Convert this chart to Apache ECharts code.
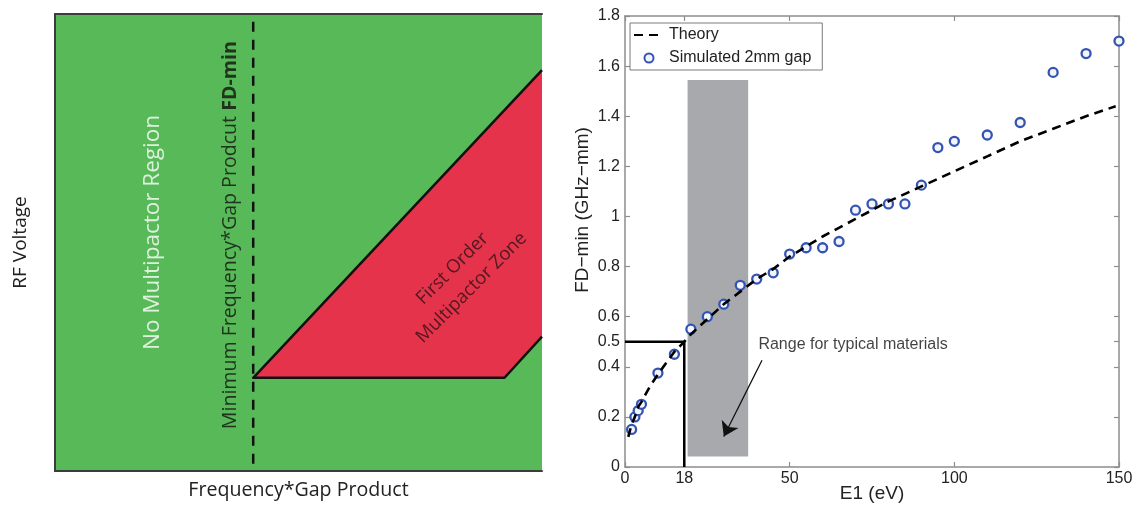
<!DOCTYPE html>
<html>
<head>
<meta charset="utf-8">
<script src="https://cdn.jsdelivr.net/npm/echarts@6/dist/echarts.min.js"></script>
<style>html,body{margin:0;padding:0;background:#fff}#c{width:1142px;height:508px}</style>
</head>
<body>
<div id="c"></div>
<script>
// ---------- Left panel: schematic (abstract units 0-100) ----------
const fdMinLine = [[40.7, 98.3], [40.7, 0]];
const zoneCorners = [[100, 87.7], [40.7, 20.4], [92.3, 20.4], [100, 29.4]];
const leftTexts = ['No Multipactor Region', 'Minimum Frequency*Gap Prodcut ', 'FD-min', 'First Order', 'Multipactor Zone'];
const leftTextAnchors = [[20.0, 52.2], [36.0, 51.6], [83.6, 42.2]];
const leftAxisNames = ['Frequency*Gap Product', 'RF Voltage'];

// ---------- Right panel: FD-min vs E1 ----------
const simE1 = [2, 3, 4, 5, 10, 15, 20, 25, 30, 35, 40, 45, 50, 55, 60, 65, 70, 75, 80, 85, 90, 95, 100, 110, 120, 130, 140, 150];
const simFD = [0.15, 0.2, 0.225, 0.25, 0.375, 0.45, 0.55, 0.6, 0.65, 0.725, 0.75, 0.775, 0.85, 0.875, 0.875, 0.9, 1.025, 1.05, 1.05, 1.05, 1.125, 1.275, 1.3, 1.325, 1.375, 1.575, 1.65, 1.7];
const theoryE1 = [1, 2, 3, 4, 5, 7.5, 10, 15, 18, 20, 25, 30, 35, 40, 45, 50, 60, 70, 80, 90, 100, 110, 120, 130, 140, 149];
const theoryFD = [0.12, 0.17, 0.2, 0.24, 0.26, 0.32, 0.37, 0.46, 0.5, 0.53, 0.59, 0.65, 0.70, 0.75, 0.79, 0.84, 0.92, 0.99, 1.06, 1.12, 1.18, 1.24, 1.30, 1.35, 1.40, 1.44];
const xTicks = [0, 18, 50, 100, 150];
const yTicks = [0, 0.2, 0.4, 0.5, 0.6, 0.8, 1, 1.2, 1.4, 1.6, 1.8];
const materialRangeE1 = [19, 37.4];
const materialRangeFD = [0.042, 1.545];
const thresholdPath = [[0, 0.5], [18, 0.5], [18, 0]];
const arrowPath = [[41.6, 0.426], [30, 0.122]];
const rangeLabel = 'Range for typical materials';
const rangeLabelAt = [40.5, 0.49];
const seriesNames = ['Theory', 'Simulated 2mm gap'];
const axisTitles = ['E1 (eV)', 'FD\u2212min (GHz\u2212mm)'];

const SANS = 'Liberation Sans, Arial, Helvetica, sans-serif';
const MYR = 'Open Sans, Noto Sans, sans-serif';
const frameGray = '#8d8d8d';

const chart = echarts.init(document.getElementById('c'), null, {renderer: 'canvas'});

const emptyAxis = {
  axisTick: {show: false}, axisLabel: {show: false}, splitLine: {show: false}
};

const option = {
  animation: false,
  backgroundColor: '#ffffff',
  grid: [
    {left: 55, top: 14, width: 487, height: 457, show: true, backgroundColor: '#57b957', borderWidth: 0},
    {left: 625, top: 16, width: 494, height: 453, show: false}
  ],
  legend: {
    data: [
      {name: seriesNames[0], itemStyle: {color: 'rgba(0,0,0,0)', borderColor: 'rgba(0,0,0,0)', borderWidth: 0}},
      {name: seriesNames[1]}
    ],
    orient: 'vertical',
    left: 630, top: 23,
    backgroundColor: '#ffffff',
    borderColor: '#7a7a7a', borderWidth: 1,
    padding: [4, 11, 4, 3],
    itemWidth: 30, itemHeight: 9, itemGap: 7, itemTextGap: 11,
    textStyle: {fontFamily: SANS, fontSize: 16, color: '#222', lineHeight: 16},
    selectedMode: false
  },
  xAxis: [
    Object.assign({gridIndex: 0, type: 'value', min: 0, max: 100, position: 'bottom',
      axisLine: {show: true, onZero: false, lineStyle: {color: '#3c3c3c', width: 2}},
      name: leftAxisNames[0], nameLocation: 'middle', nameGap: 9, nameMoveOverlap: false,
      nameTextStyle: {fontFamily: MYR, fontSize: 19.6, color: '#222'}}, emptyAxis),
    Object.assign({gridIndex: 0, type: 'value', min: 0, max: 100, position: 'top',
      axisLine: {show: true, onZero: false, lineStyle: {color: '#3c3c3c', width: 2}}}, emptyAxis),
    {gridIndex: 1, type: 'value', min: 0, max: 150, position: 'bottom',
      axisLine: {show: true, onZero: false, lineStyle: {color: frameGray, width: 1.5}},
      axisTick: {show: true, inside: true, length: 5, customValues: xTicks, lineStyle: {color: frameGray, width: 1.2}},
      axisLabel: {show: true, customValues: xTicks, margin: 4, fontFamily: SANS, fontSize: 16, color: '#222'},
      splitLine: {show: false},
      name: axisTitles[0], nameLocation: 'middle', nameGap: 17, nameMoveOverlap: false,
      nameTextStyle: {fontFamily: SANS, fontSize: 19, color: '#222'}},
    {gridIndex: 1, type: 'value', min: 0, max: 150, position: 'top',
      axisLine: {show: true, onZero: false, lineStyle: {color: frameGray, width: 1.5}},
      axisTick: {show: true, inside: true, length: 5, customValues: xTicks, lineStyle: {color: frameGray, width: 1.2}},
      axisLabel: {show: false}, splitLine: {show: false}}
  ],
  yAxis: [
    Object.assign({gridIndex: 0, type: 'value', min: 0, max: 100, position: 'left',
      axisLine: {show: true, onZero: false, lineStyle: {color: '#3c3c3c', width: 2}},
      name: leftAxisNames[1], nameLocation: 'middle', nameGap: 25, nameMoveOverlap: false,
      nameTextStyle: {fontFamily: MYR, fontSize: 19, color: '#222'}}, emptyAxis),
    Object.assign({gridIndex: 0, type: 'value', min: 0, max: 100, position: 'right',
      axisLine: {show: false, onZero: false}}, emptyAxis),
    {gridIndex: 1, type: 'value', min: 0, max: 1.8, position: 'left',
      axisLine: {show: true, onZero: false, lineStyle: {color: frameGray, width: 1.5}},
      axisTick: {show: true, inside: true, length: 5, customValues: yTicks, lineStyle: {color: frameGray, width: 1.2}},
      axisLabel: {show: true, customValues: yTicks, margin: 5, fontFamily: SANS, fontSize: 16, color: '#222'},
      splitLine: {show: false},
      name: axisTitles[1], nameLocation: 'middle', nameGap: 33, nameMoveOverlap: false,
      nameTextStyle: {fontFamily: SANS, fontSize: 19, color: '#222', padding: [0, 0, 0, 63]}},
    {gridIndex: 1, type: 'value', min: 0, max: 1.8, position: 'right',
      axisLine: {show: true, onZero: false, lineStyle: {color: frameGray, width: 1.5}},
      axisTick: {show: true, inside: true, length: 5, customValues: yTicks, lineStyle: {color: frameGray, width: 1.2}},
      axisLabel: {show: false}, splitLine: {show: false}}
  ],
  series: [
    // ---- left schematic ----
    {
      type: 'custom', xAxisIndex: 0, yAxisIndex: 0, silent: true, z: 1,
      data: [zoneCorners[0]],
      renderItem: function (params, api) {
        return {type: 'polygon', shape: {points: zoneCorners.map(p => api.coord(p))},
          style: {fill: '#e4334a', stroke: 'none'}};
      }
    },
    {
      type: 'line', xAxisIndex: 0, yAxisIndex: 0, silent: true, z: 3,
      data: zoneCorners, symbol: 'none',
      lineStyle: {color: '#111', width: 2.5, join: 'round'}
    },
    {
      type: 'line', xAxisIndex: 0, yAxisIndex: 0, silent: true, z: 3,
      data: fdMinLine, symbol: 'none',
      lineStyle: {color: '#111', width: 2.5, type: [10, 8]}
    },
    {
      type: 'scatter', xAxisIndex: 0, yAxisIndex: 0, silent: true, z: 4,
      symbolSize: 0, itemStyle: {color: 'rgba(0,0,0,0)'},
      data: [
        {value: leftTextAnchors[0], label: {show: true, position: 'inside', rotate: 90,
          formatter: leftTexts[0], fontFamily: MYR, fontSize: 22.5, color: '#ffffff'}},
        {value: leftTextAnchors[1], label: {show: true, position: 'inside', rotate: 90,
          formatter: '{n|' + leftTexts[1] + '}{b|' + leftTexts[2] + '}',
          rich: {n: {fontFamily: MYR, fontSize: 19.6, color: '#111'},
                 b: {fontFamily: MYR, fontSize: 19.6, color: '#111', fontWeight: 'bold'}}}},
        {value: leftTextAnchors[2], label: {show: true, position: 'inside', rotate: 45, align: 'center',
          formatter: leftTexts[3] + '\n' + leftTexts[4], fontFamily: MYR, fontSize: 18.5,
          lineHeight: 27, color: '#2e1216'}}
      ]
    },
    // ---- right chart ----
    {
      type: 'custom', xAxisIndex: 2, yAxisIndex: 2, silent: true, z: 1,
      data: [[materialRangeE1[0], materialRangeFD[0], materialRangeE1[1], materialRangeFD[1]]],
      encode: {x: [0, 2], y: [1, 3]},
      renderItem: function (params, api) {
        const a = api.coord([api.value(0), api.value(3)]);
        const b = api.coord([api.value(2), api.value(1)]);
        return {type: 'rect', shape: {x: a[0], y: a[1], width: b[0] - a[0], height: b[1] - a[1]},
          style: {fill: '#a7a9ac'}};
      }
    },
    {
      type: 'line', xAxisIndex: 2, yAxisIndex: 2, silent: true, z: 2,
      data: thresholdPath, symbol: 'none',
      lineStyle: {color: '#000', width: 2.5}
    },
    {
      name: seriesNames[1], type: 'scatter', xAxisIndex: 2, yAxisIndex: 2, silent: true, z: 3,
      data: simE1.map((x, i) => [x, simFD[i]]),
      symbol: 'circle', symbolSize: 9,
      itemStyle: {color: '#f4f5fb', borderColor: '#3454b4', borderWidth: 2.3, opacity: 1}
    },
    {
      name: seriesNames[0], type: 'line', xAxisIndex: 2, yAxisIndex: 2, silent: true, z: 4,
      data: theoryE1.map((x, i) => [x, theoryFD[i]]),
      symbol: 'none', showSymbol: false,
      lineStyle: {color: '#000', width: 2.6, type: [9, 6]},
      itemStyle: {color: '#000'}
    },
    {
      type: 'lines', coordinateSystem: 'cartesian2d', xAxisIndex: 2, yAxisIndex: 2, silent: true, z: 5,
      data: [{coords: arrowPath}],
      symbol: ['none', 'arrow'], symbolSize: [0, 14],
      lineStyle: {color: '#111', width: 1.3, opacity: 1}
    },
    {
      type: 'scatter', xAxisIndex: 2, yAxisIndex: 2, silent: true, z: 5,
      symbolSize: 0, itemStyle: {color: 'rgba(0,0,0,0)'},
      data: [{value: rangeLabelAt}],
      label: {show: true, position: 'right', distance: 0, formatter: rangeLabel,
        fontFamily: SANS, fontSize: 16, color: '#111'}
    }
  ]
};
chart.setOption(option);
</script>
</body>
</html>
